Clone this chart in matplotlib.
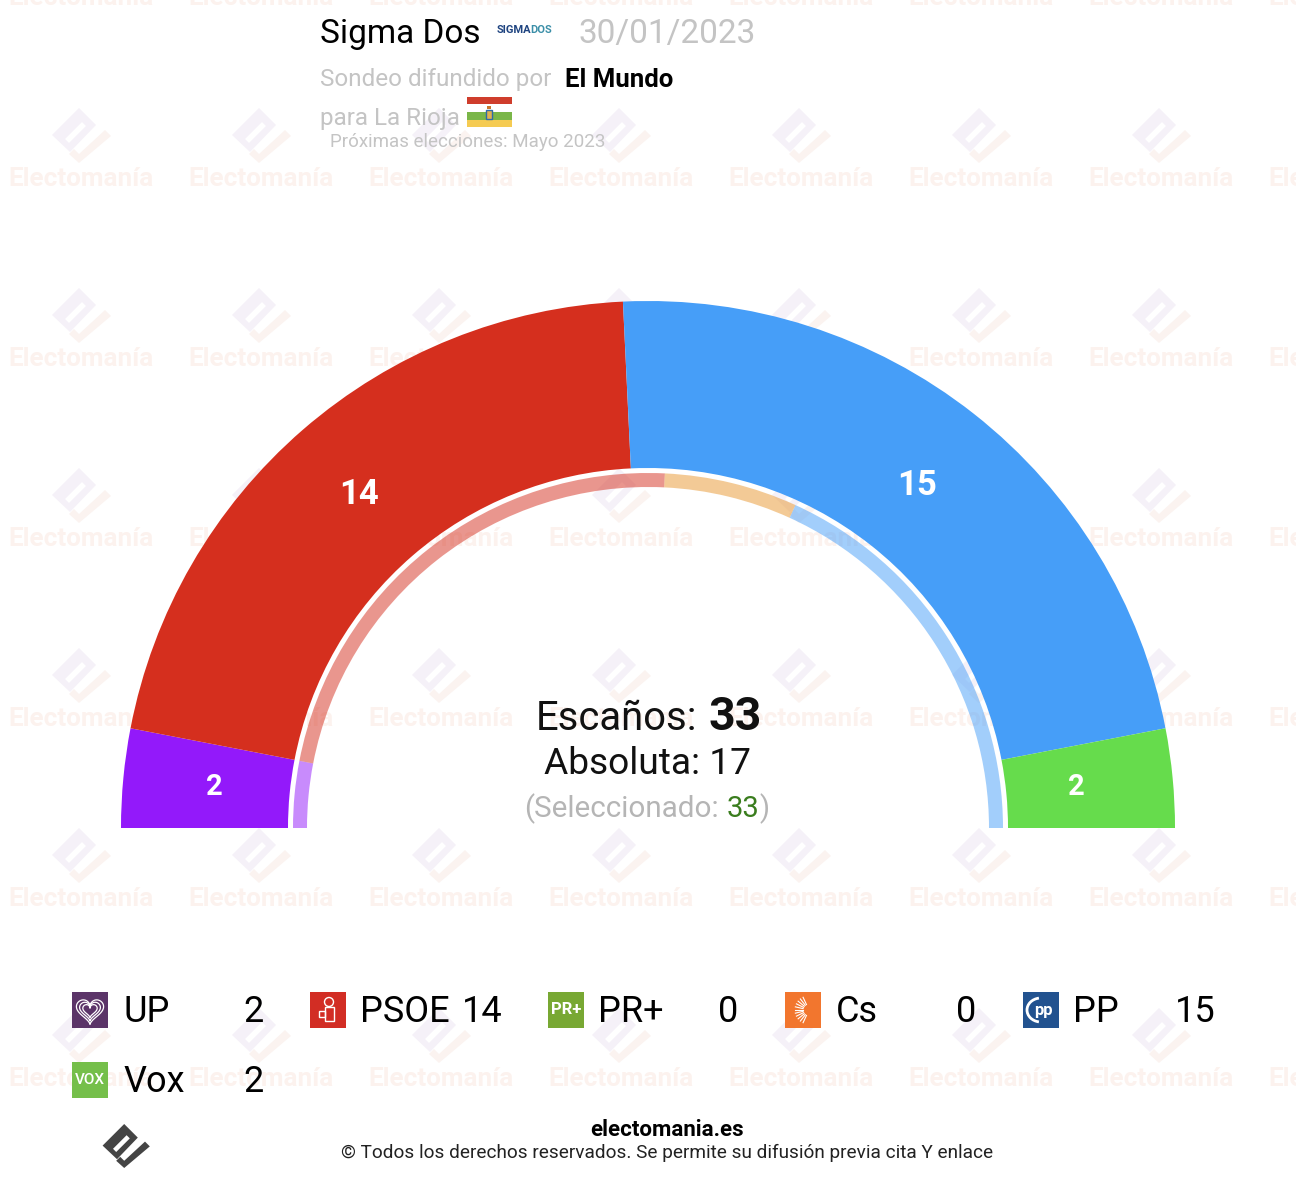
import matplotlib
matplotlib.use("Agg")
import numpy as np
import matplotlib.pyplot as plt
from matplotlib.patches import Wedge, Rectangle, Polygon, PathPatch, Circle, Arc
from matplotlib.path import Path

plt.rcParams["font.family"] = ["Roboto", "DejaVu Sans"]

parties = ["UP", "PSOE", "PR+", "Cs", "PP", "Vox"]
seats = [2, 14, 0, 0, 15, 2]
previous_seats = [2, 15, 0, 4, 12, 0]
outer_colors = ["#9319fa", "#d52f1e", "#78a833", "#f2762e", "#469ef8", "#66dc4c"]
inner_colors = ["#9319fa", "#d52f1e", "#78a833", "#e8962e", "#469ef8", "#66dc4c"]
icon_colors = ["#5b3468", "#d22d24", "#78a833", "#f2762e", "#22528f", "#75bf4a"]

total_seats = 33
majority = 17
selected = 33

CX, CY = 648, 828
R_OUT, R_IN = 527, 360
R2_OUT, R2_IN = 355, 341
label_r = [436, 441, 0, 0, 436, 430]

fig = plt.figure(figsize=(12.96, 11.8), dpi=100)
ax = fig.add_axes([0, 0, 1, 1])
ax.set_xlim(0, 1296)
ax.set_ylim(1180, 0)  # pixel coords, y down: 180-360 deg is the upper half
ax.axis("off")


def draw_logo(cx, cy, scale, color, color2=None, z=1):
    # brand mark, unit coords are px of the watermark version
    color2 = color2 or color
    block = [(-1, -25), (16, -8), (-10, 19), (-28, 2)]
    hole = [(2, -11), (6, -7), (-11, 10), (-15, 6)]
    check = [(25, -3), (31, 3), (-1, 30), (-11, 21), (-6, 16), (-1, 21)]
    verts = block + [block[0]] + hole[::-1] + [hole[-1]]
    codes = [Path.MOVETO] + [Path.LINETO] * 3 + [Path.CLOSEPOLY]
    codes += [Path.MOVETO] + [Path.LINETO] * 3 + [Path.CLOSEPOLY]
    verts = [(cx + x * scale, cy + y * scale) for x, y in verts]
    ax.add_patch(PathPatch(Path(verts, codes), fc=color, ec="none", zorder=z))
    ax.add_patch(Polygon([(cx + x * scale, cy + y * scale) for x, y in check],
                         fc=color2, ec="none", zorder=z))


# watermark tiles
for col in range(8):
    x = 81 + col * 180
    ax.text(x, -2, "Electomanía", fontsize=18.8, fontweight="bold", color="#fcf2ee",
            ha="center", va="center", zorder=1)
    for row in range(6):
        y = 177 + row * 180
        draw_logo(x - 1, y - 44, 1.0, "#f5f1f8", "#fbf3f0")
        ax.text(x, y + 1.5, "Electomanía", fontsize=18.8, fontweight="bold", color="#fcf2ee",
                ha="center", va="center", zorder=1)


def draw_ring(values, colors, r_out, r_in, alpha=1.0):
    start = 0
    for value, color in zip(values, colors):
        if value == 0:
            continue
        a0 = 180 + start / total_seats * 180
        a1 = 180 + (start + value) / total_seats * 180
        ax.add_patch(Wedge((CX, CY), r_out, a0, a1, width=r_out - r_in, fc=color,
                           ec="none", alpha=alpha, zorder=3))
        start += value


draw_ring(seats, outer_colors, R_OUT, R_IN)
draw_ring(previous_seats, inner_colors, R2_OUT, R2_IN, alpha=0.5)

# seat labels in the middle of each sector
start = 0
for i, value in enumerate(seats):
    if value > 0:
        mid = np.deg2rad((start + value / 2) / total_seats * 180)
        r = label_r[i]
        ax.text(CX - r * np.cos(mid), CY - r * np.sin(mid), str(value), color="white",
                fontsize=25 if value > 2 else 21, fontweight="bold", ha="center",
                va="center", zorder=4)
    start += value

# centre block
ax.text(536, 730, "Escaños:", fontsize=28.8, color="#111111", ha="left", va="baseline", zorder=5)
ax.text(708, 730, str(total_seats), fontsize=33.5, fontweight="bold", color="#111111",
        ha="left", va="baseline", zorder=5)
ax.text(648, 774.5, f"Absoluta: {majority}", fontsize=26.7, color="#111111",
        ha="center", va="baseline", zorder=5)
ax.text(524, 817, "(Seleccionado:", fontsize=21.3, color="#b5b5b5", ha="left", va="baseline", zorder=5)
ax.text(727, 817, str(selected), fontsize=21, color="#3a7d1e", ha="left", va="baseline", zorder=5)
ax.text(759, 817, ")", fontsize=21, color="#b5b5b5", ha="left", va="baseline", zorder=5)

# header
ax.text(320, 43, "Sigma Dos", fontsize=24, color="black", ha="left", va="baseline", zorder=5)
ax.text(497, 33, "SIGMA", fontsize=8, fontweight="bold", color="#1f4480", ha="left", va="baseline", zorder=5)
ax.text(530, 33, "DOS", fontsize=8, fontweight="bold", color="#3b8fa8", ha="left", va="baseline", zorder=5)
ax.text(578, 43, "30/01/2023", fontsize=24, color="#c4c4c4", ha="left", va="baseline", zorder=5)
ax.text(320, 86, "Sondeo difundido por", fontsize=17.5, color="#c4c4c4", ha="left", va="baseline", zorder=5)
ax.text(565, 87, "El Mundo", fontsize=18.5, fontweight="bold", color="black", ha="left", va="baseline", zorder=5)
ax.text(320, 125, "para La Rioja", fontsize=17.5, color="#c4c4c4", ha="left", va="baseline", zorder=5)
ax.text(330, 147, "Próximas elecciones: Mayo 2023", fontsize=13.5, color="#c4c4c4", ha="left", va="baseline", zorder=5)

# La Rioja flag
ax.add_patch(Rectangle((467, 97), 45, 7, fc="#cf3d2c", ec="none", zorder=5))
ax.add_patch(Rectangle((467, 104), 45, 8, fc="white", ec="none", zorder=5))
ax.add_patch(Rectangle((467, 112), 45, 8, fc="#7ab648", ec="none", zorder=5))
ax.add_patch(Rectangle((467, 120), 45, 7, fc="#f5cb52", ec="none", zorder=5))
ax.add_patch(Rectangle((486, 110), 6, 9, fc="#e0b050", ec="#2f6aa8", lw=1, zorder=6))
ax.add_patch(Rectangle((487, 106), 4, 3, fc="#c9772e", ec="none", zorder=6))

# legend
icon_x = [72, 310, 548, 785, 1023, 72]
icon_y = [992, 992, 992, 992, 992, 1062]
name_x = [123, 360, 598, 836, 1073, 123]
count_x = [244, 462, 719, 957, 1175, 244]
for i, party in enumerate(parties):
    x0, y0 = icon_x[i], icon_y[i]
    ax.add_patch(Rectangle((x0, y0), 36, 36, fc=icon_colors[i], ec="none", zorder=5))
    mx, my = x0 + 18, y0 + 18
    if party == "UP":
        t = np.linspace(0, 2 * np.pi, 80)
        for k in (0.85, 0.65, 0.45):
            hx = 16 * np.sin(t) ** 3
            hy = 13 * np.cos(t) - 5 * np.cos(2 * t) - 2 * np.cos(3 * t) - np.cos(4 * t)
            ax.plot(mx + k * hx, my - k * hy, color="white", lw=0.9, zorder=6)
    elif party == "PSOE":
        ax.add_patch(Circle((mx + 1, my - 8), 4.5, fc="none", ec="white", lw=1, zorder=6))
        ax.add_patch(Rectangle((mx - 3, my - 3), 9, 14, fc="none", ec="white", lw=1, zorder=6))
        ax.add_patch(Rectangle((mx - 9, my + 1), 6, 6, fc="none", ec="white", lw=1, zorder=6))
    elif party == "PR+":
        ax.text(mx, my, "PR+", fontsize=12, fontweight="bold", color="white",
                ha="center", va="center", zorder=6)
    elif party == "Cs":
        for ang in np.arange(115, 250, 13):
            t = np.deg2rad(ang)
            ax.plot([mx + 6 + 6 * np.cos(t), mx + 6 + 14 * np.cos(t)],
                    [my + 6 * np.sin(t), my + 14 * np.sin(t)], color="white", lw=0.8, zorder=6)
    elif party == "PP":
        ax.add_patch(Arc((mx, my), 28, 24, theta1=100, theta2=260, ec="white", lw=2, zorder=6))
        ax.text(mx + 2, my + 1, "pp", fontsize=12, fontweight="bold", color="white",
                ha="center", va="center", zorder=6)
    elif party == "Vox":
        ax.text(mx, my, "VOX", fontsize=11, fontweight="medium", color="white",
                ha="center", va="center", zorder=6)
    ax.text(name_x[i], y0 + 30.5, party, fontsize=26, color="black", ha="left", va="baseline", zorder=5)
    ax.text(count_x[i] - 0.5, y0 + 30.5, str(seats[i]), fontsize=26, color="black", ha="left", va="baseline", zorder=5)

# footer
draw_logo(125, 1144, 0.8, "#444444", z=5)
ax.text(667, 1136, "electomania.es", fontsize=16, fontweight="bold", color="black",
        ha="center", va="baseline", zorder=5)
ax.text(667, 1158, "© Todos los derechos reservados. Se permite su difusión previa cita Y enlace",
        fontsize=13.65, color="#222222", ha="center", va="baseline", zorder=5)

fig.savefig("out.png", dpi=100)
